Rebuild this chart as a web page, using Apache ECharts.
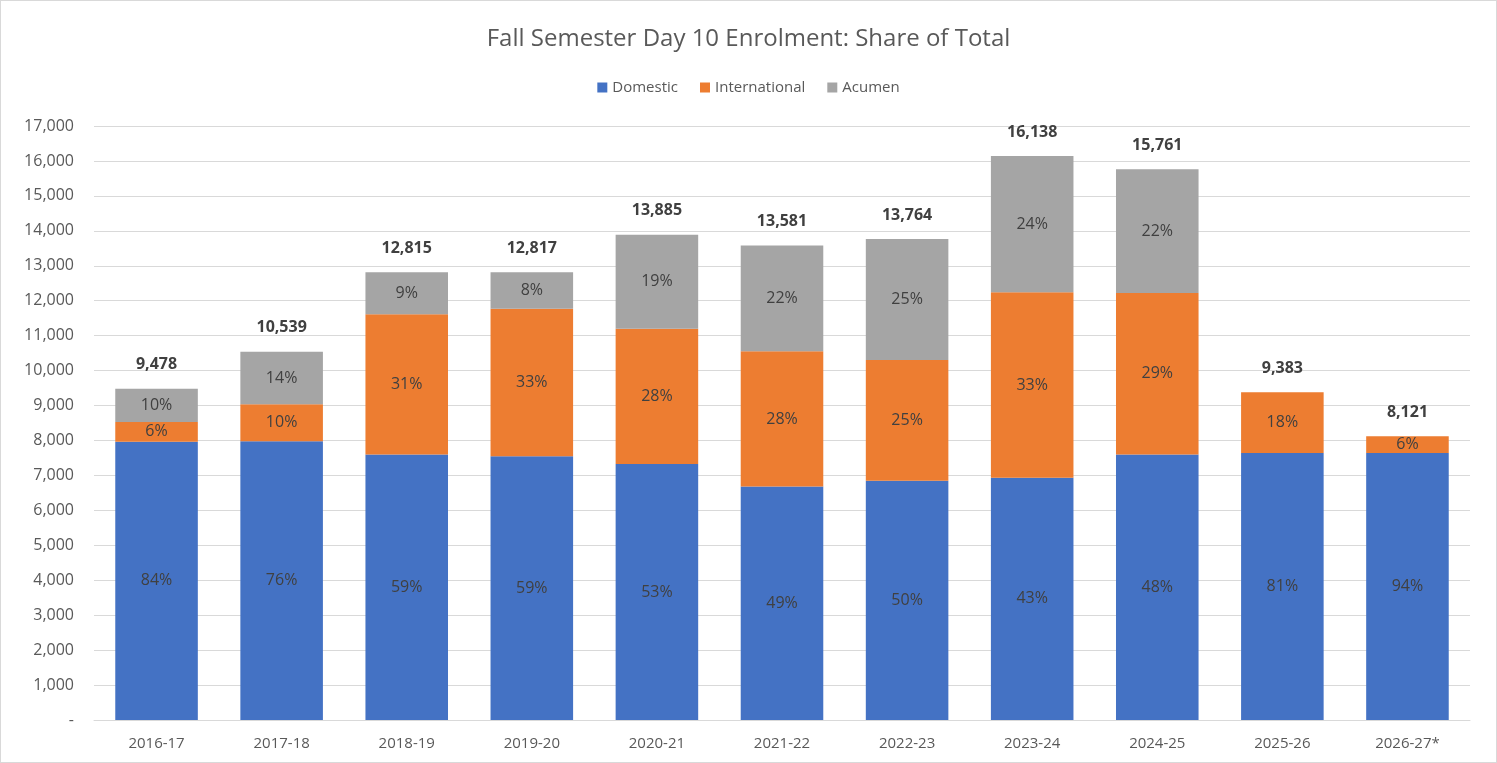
<!DOCTYPE html>
<html>
<head>
<meta charset="utf-8">
<script src="https://cdn.jsdelivr.net/npm/echarts@6/dist/echarts.min.js"></script>
<style>
    html, body { margin: 0; padding: 0; background: #fff; }
    #chart { width: 1497px; height: 763px; box-sizing: border-box; border: 1px solid #d9d9d9; }
</style>
</head>
<body>
<div id="chart"></div>
<script>
var years = ['2016-17', '2017-18', '2018-19', '2019-20', '2020-21', '2021-22', '2022-23', '2023-24', '2024-25', '2025-26', '2026-27*'];
var domestic = [7960, 7980, 7600, 7550, 7330, 6680, 6850, 6930, 7600, 7640, 7640];
var international = [570, 1060, 4010, 4217, 3870, 3870, 3450, 5310, 4620, 1743, 481];
var acumen = [948, 1499, 1205, 1050, 2685, 3031, 3464, 3898, 3541, 0, 0];
var totals = [9478, 10539, 12815, 12817, 13885, 13581, 13764, 16138, 15761, 9383, 8121];
// share labels as printed on the bars
var domesticPct = ['84%', '76%', '59%', '59%', '53%', '49%', '50%', '43%', '48%', '81%', '94%'];
var internationalPct = ['6%', '10%', '31%', '33%', '28%', '28%', '25%', '33%', '29%', '18%', '6%'];
var acumenPct = ['10%', '14%', '9%', '8%', '19%', '22%', '25%', '24%', '22%', '', ''];

(function () {
    var chartDom = document.getElementById('chart');
    var myChart = echarts.init(chartDom);
    var font = 'Open Sans';

    function pctLabel(list) {
        return {
            show: true,
            position: 'inside',
            fontFamily: font,
            fontSize: 16,
            color: '#404040',
            formatter: function (p) { return list[p.dataIndex]; }
        };
    }

    var option = {
        animation: false,
        textStyle: { fontFamily: font },
        title: {
            text: 'Fall Semester Day 10 Enrolment: Share of Total',
            left: 'center',
            top: 21,
            textStyle: { fontFamily: font, fontSize: 24, fontWeight: 'normal', color: '#595959' }
        },
        legend: {
            top: 74,
            left: 'center',
            itemWidth: 10,
            itemHeight: 10,
            itemGap: 22,
            icon: 'rect',
            data: ['Domestic', 'International', 'Acumen'],
            textStyle: { fontFamily: font, fontSize: 15, color: '#595959' }
        },
        grid: { left: 93, right: 26, top: 125, bottom: 42 },
        xAxis: {
            type: 'category',
            data: years,
            axisTick: { show: false },
            axisLine: { lineStyle: { color: '#d9d9d9' } },
            axisLabel: { fontFamily: font, fontSize: 15, color: '#595959', margin: 16 }
        },
        yAxis: {
            type: 'value',
            min: 0,
            max: 17000,
            interval: 1000,
            splitLine: { lineStyle: { color: '#d9d9d9', width: 1 } },
            axisLabel: {
                fontFamily: font,
                fontSize: 16,
                color: '#595959',
                margin: 20,
                formatter: function (v) { return v === 0 ? '-' : v.toLocaleString('en-US'); }
            }
        },
        series: [
            {
                name: 'Domestic',
                type: 'bar',
                stack: 'all',
                barCategoryGap: '34%',
                itemStyle: { color: '#4472C4' },
                label: pctLabel(domesticPct),
                data: domestic
            },
            {
                name: 'International',
                type: 'bar',
                stack: 'all',
                itemStyle: { color: '#ED7D31' },
                label: pctLabel(internationalPct),
                data: international
            },
            {
                name: 'Acumen',
                type: 'bar',
                stack: 'all',
                itemStyle: { color: '#A5A5A5' },
                label: pctLabel(acumenPct),
                data: acumen
            },
            {
                name: 'Total',
                type: 'bar',
                stack: 'all',
                itemStyle: { color: 'transparent' },
                label: {
                    show: true,
                    position: 'top',
                    distance: 16,
                    fontFamily: font,
                    fontSize: 16,
                    fontWeight: 'bold',
                    color: '#404040',
                    formatter: function (p) { return totals[p.dataIndex].toLocaleString('en-US'); }
                },
                data: years.map(function () { return 0; })
            }
        ]
    };

    option && myChart.setOption(option);
    window.addEventListener('resize', function () {
        myChart.resize();
    });
})();
</script>
</body>
</html>
